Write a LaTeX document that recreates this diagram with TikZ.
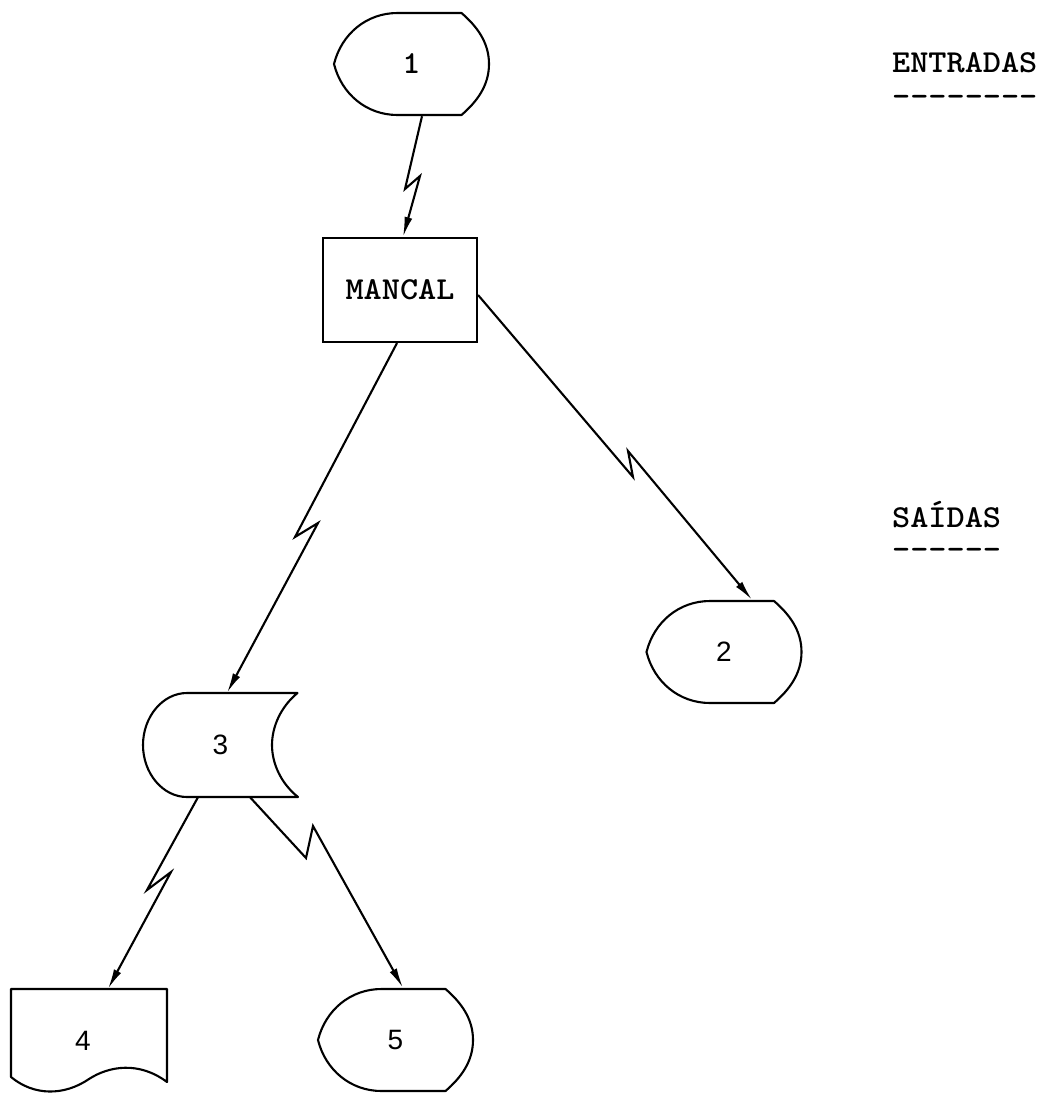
\documentclass[tikz,border=0pt]{standalone}
\usepackage{fontspec}
\usepackage{graphicx}
\newfontfamily\sansf{Liberation Sans}
\usetikzlibrary{arrows.meta,calc}
% typewriter lettering, widened a little to the typewriter pitch
\newcommand{\tw}[1]{\scalebox{1.08}[1]{#1}}
\begin{document}
\begin{tikzpicture}[x=1pt,y=-1pt,
  outline/.style={draw=black,line width=2.1pt,line join=round},
  link/.style={draw=black,line width=2.1pt,line join=miter,
    -{Latex[length=20pt,width=8pt]}},
  typed/.style={font=\ttfamily\bfseries\fontsize{32}{32}\selectfont},
  digit/.style={font=\sansf\fontsize{28}{28}\selectfont},
  box/.style={inner sep=0pt,minimum width=155pt,minimum height=104pt},
  pics/display/.style={code={
    \path[outline] (-77.5,0) .. controls (-70,-30) and (-45,-51) .. (-14,-51)
      -- (50,-51) .. controls (65,-38) and (77.5,-22) .. (77.5,0)
      .. controls (77.5,22) and (65,38) .. (50,51)
      -- (-14,51) .. controls (-45,51) and (-70,30) .. (-77.5,0) -- cycle;}},
  pics/stored/.style={code={
    \path[outline] (-33.5,-52) .. controls (-58,-52) and (-77.5,-28) .. (-77.5,0)
      .. controls (-77.5,28) and (-58,52) .. (-33.5,52) -- (77.5,52)
      .. controls (60,38) and (51.5,18) .. (51.5,0)
      .. controls (51.5,-18) and (60,-38) .. (77,-52) -- cycle;}},
  pics/document/.style={code={
    \path[outline] (-78,-52) -- (78,-52) -- (78,41)
      .. controls (50,20) and (20,25) .. (0,38)
      .. controls (-25,55) and (-55,55) .. (-78,36) -- cycle;}}
]
\useasboundingbox (0,0) rectangle (1049,1095);

% shapes
\pic at (411.5,64) {display};
\pic at (724,652) {display};
\pic at (395.5,1040) {display};
\pic at (220.5,745) {stored};
\pic at (89,1041) {document};

% labelled nodes
\node[box,typed] (n1) at (411.5,64) {\tw{1}};
\node[box,typed,draw,line width=2.1pt,minimum width=154pt] (mancal) at (400,290) {\tw{MANCAL}};
\node[box,digit] (n2) at (724,652) {2};
\node[box,digit] (n3) at (220.5,745) {3};
\node[box,digit] (n4) at (83,1041) {4};
\node[box,digit] (n5) at (395.5,1040) {5};

% side headings
\node[typed,inner sep=0pt,anchor=base west] (entradas) at (892,72) {\tw{ENTRADAS}};
\node[typed,inner sep=0pt,anchor=base west] (entradasrule) at (892,106) {\tw{--------}};
\node[typed,inner sep=0pt,anchor=base west] (saidas) at (892,527) {\tw{SAÍDAS}};
\node[typed,inner sep=0pt,anchor=base west] (saidasrule) at (892,559) {\tw{------}};

% kinks of the communication links
\coordinate (k1a) at (405,189);
\coordinate (k1b) at (420,176);
\coordinate (k2a) at (633,477);
\coordinate (k2b) at (628,451);
\coordinate (k3a) at (295,537);
\coordinate (k3b) at (318,523);
\coordinate (k4a) at (147,890);
\coordinate (k4b) at (171,872);
\coordinate (k5a) at (306,858);
\coordinate (k5b) at (313,826);

% communication links
\draw[link] ([xshift=10.5pt]n1.south) -- (k1a) -- (k1b) -- ([xshift=3pt]mancal.north);
\draw[link] ([yshift=-5pt]mancal.east) -- (k2a) -- (k2b) -- ([xshift=28pt]n2.north);
\draw[link] ([xshift=-3pt]mancal.south) -- (k3a) -- (k3b) -- ([xshift=6.5pt]n3.north);
\draw[link] ([xshift=-22.5pt]n3.south) -- (k4a) -- (k4b) -- ([xshift=25pt]n4.north);
\draw[link] ([xshift=29.5pt]n3.south) -- (k5a) -- (k5b) -- ([xshift=7.5pt]n5.north);
\end{tikzpicture}
\end{document}
